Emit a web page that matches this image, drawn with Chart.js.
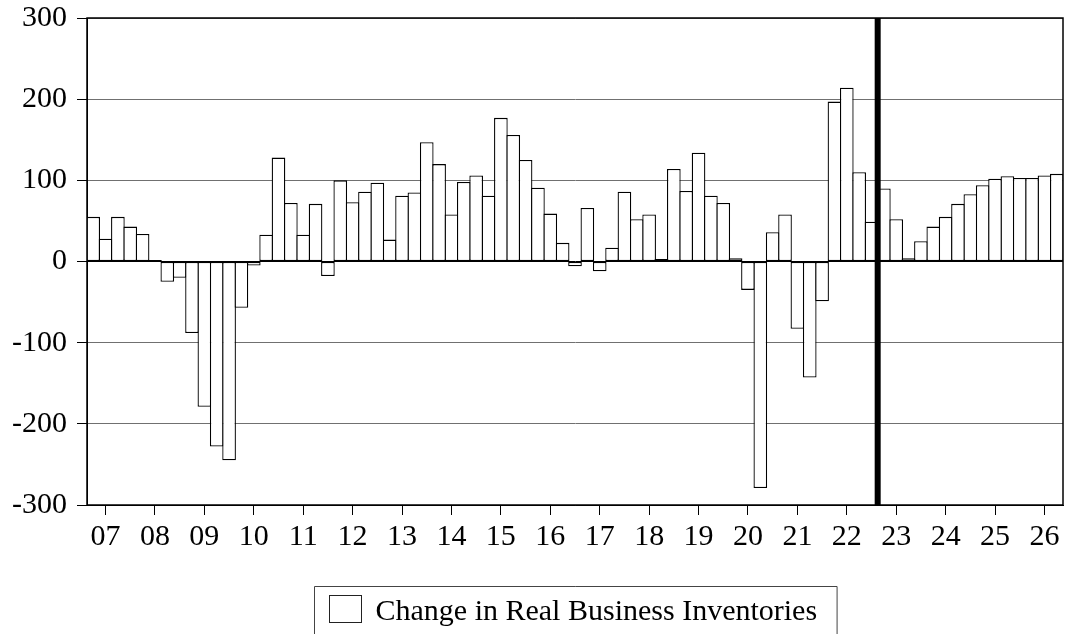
<!DOCTYPE html>
<html>
<head>
<meta charset="utf-8">
<script src="https://cdn.jsdelivr.net/npm/chart.js@4.4.1/dist/chart.umd.min.js"></script>
<style>
  html, body { margin: 0; padding: 0; background: #ffffff; }
  #wrap { width: 1066px; height: 634px; }
</style>
</head>
<body>
<div id="wrap"><canvas id="c" width="1066" height="634"></canvas></div>
<script>
// ---- data ----
const years = ['07','08','09','10','11','12','13','14','15','16','17','18','19','20','21','22','23','24','25','26'];
const quarters = ['Q1','Q2','Q3','Q4'];
const seriesLabel = 'Change in Real Business Inventories';
// 2007Q1 .. 2026Q3 (79 quarters)
const inventoryChange = [
  55, 28, 55, 43,      // 2007
  34, 2, -25, -20,     // 2008
  -88, -179, -228, -245, // 2009
  -57, -5, 33, 128,    // 2010
  72, 33, 71, -18,     // 2011
  100, 73, 86, 97,     // 2012
  27, 81, 85, 147,     // 2013
  120, 58, 98, 106,    // 2014
  81, 177, 156, 125,   // 2015
  91, 59, 23, -6,      // 2016
  66, -12, 17, 86,     // 2017
  52, 58, 3, 114,      // 2018
  87, 134, 81, 72,     // 2019
  4, -35, -279, 36,    // 2020
  58, -83, -143, -49,  // 2021
  197, 214, 110, 49,   // 2022
  90, 52, 4, 25,       // 2023
  43, 55, 71, 83,      // 2024
  94, 102, 105, 103,   // 2025
  103, 106, 108        // 2026
];
const yTicks = [-300, -200, -100, 0, 100, 200, 300];
const forecastStartIndex = 64; // 2023Q1: vertical marker before this bar

const categories = [];
years.forEach(y => quarters.forEach(q => categories.push('20' + y + q)));
categories.length = inventoryChange.length;

const serif = '"Liberation Serif", "Times New Roman", Times, serif';

const framePlugin = {
  id: 'frame',
  afterDatasetsDraw(chart) {
    const { ctx, chartArea: a, scales } = chart;
    ctx.save();
    const xs = scales.x;
    const xl = (xs.getPixelForValue(forecastStartIndex - 1) + xs.getPixelForValue(forecastStartIndex)) / 2;
    ctx.beginPath();
    ctx.strokeStyle = '#000';
    ctx.lineWidth = 6;
    ctx.moveTo(xl, a.top);
    ctx.lineTo(xl, a.bottom);
    ctx.stroke();
    ctx.lineWidth = 1.5;
    ctx.strokeStyle = '#000';
    ctx.strokeRect(a.left, a.top, a.right - a.left, a.bottom - a.top);
    ctx.restore();
  },
  afterDraw(chart) {
    const { ctx, chartArea: a } = chart;
    ctx.save();
    ctx.font = '30px ' + serif;
    const text = chart.data.datasets[0].label;
    const tw = ctx.measureText(text).width;
    const padL = 15, sw = 32, sh = 27, gap = 14, padR = 20;
    const total = padL + sw + gap + tw + padR;
    const cx = (a.left + a.right) / 2;
    const left = Math.round(cx - total / 2) + 0.5;
    const top = Math.round(a.bottom + 81) + 0.5;
    ctx.strokeStyle = '#444';
    ctx.lineWidth = 1;
    ctx.beginPath();
    ctx.moveTo(left, top + 80);
    ctx.lineTo(left, top);
    ctx.lineTo(left + total, top);
    ctx.lineTo(left + total, top + 80);
    ctx.stroke();
    ctx.fillStyle = '#fff';
    ctx.fillRect(left + padL, top + 9, sw, sh);
    ctx.strokeStyle = '#222';
    ctx.strokeRect(left + padL, top + 9, sw, sh);
    ctx.fillStyle = '#000';
    ctx.textBaseline = 'alphabetic';
    ctx.textAlign = 'left';
    ctx.fillText(text, left + padL + sw + gap, top + 33);
    ctx.restore();
  }
};

new Chart(document.getElementById('c'), {
  type: 'bar',
  data: {
    labels: categories,
    datasets: [{
      label: seriesLabel,
      data: inventoryChange,
      backgroundColor: '#ffffff',
      borderColor: '#000000',
      borderWidth: 1.3,
      borderSkipped: false,
      inflateAmount: 0,
      barPercentage: 1.105,
      categoryPercentage: 1.0
    }]
  },
  options: {
    responsive: false,
    devicePixelRatio: 1,
    animation: false,
    layout: { padding: { top: 18, right: 3, bottom: 79, left: 0 } },
    plugins: {
      legend: { display: false },
      tooltip: { enabled: false }
    },
    scales: {
      x: {
        type: 'category',
        offset: true,
        grid: {
          display: true,
          offset: false,
          drawOnChartArea: false,
          drawTicks: true,
          tickLength: 10,
          tickColor: '#000',
          tickWidth: 1
        },
        border: { display: true, color: '#000', width: 1 },
        afterBuildTicks(scale) {
          scale.ticks = scale.ticks.filter(t => t.value % 4 === 1);
        },
        afterFit(scale) { scale.height = 50; scale.paddingLeft = 0; scale.paddingRight = 0; },
        ticks: {
          autoSkip: false,
          maxRotation: 0,
          minRotation: 0,
          padding: 4,
          color: '#000',
          font: { family: serif, size: 30 },
          callback(value) { return years[Math.floor(value / 4)]; }
        }
      },
      y: {
        min: -300,
        max: 300,
        afterBuildTicks(scale) {
          scale.ticks = yTicks.map(v => ({ value: v }));
        },
        afterFit(scale) { scale.width = 87; scale.paddingTop = 0; scale.paddingBottom = 0; },
        grid: {
          color: ctx => (ctx.tick && ctx.tick.value === 0) ? '#000' : '#707070',
          lineWidth: 1,
          drawTicks: true,
          tickLength: 10,
          tickColor: '#000'
        },
        border: { display: true, color: '#000', width: 1 },
        ticks: {
          padding: 10,
          color: '#000',
          font: { family: serif, size: 30 },
          callback(value) { return String(value); }
        }
      }
    }
  },
  plugins: [framePlugin]
});
</script>
</body>
</html>
